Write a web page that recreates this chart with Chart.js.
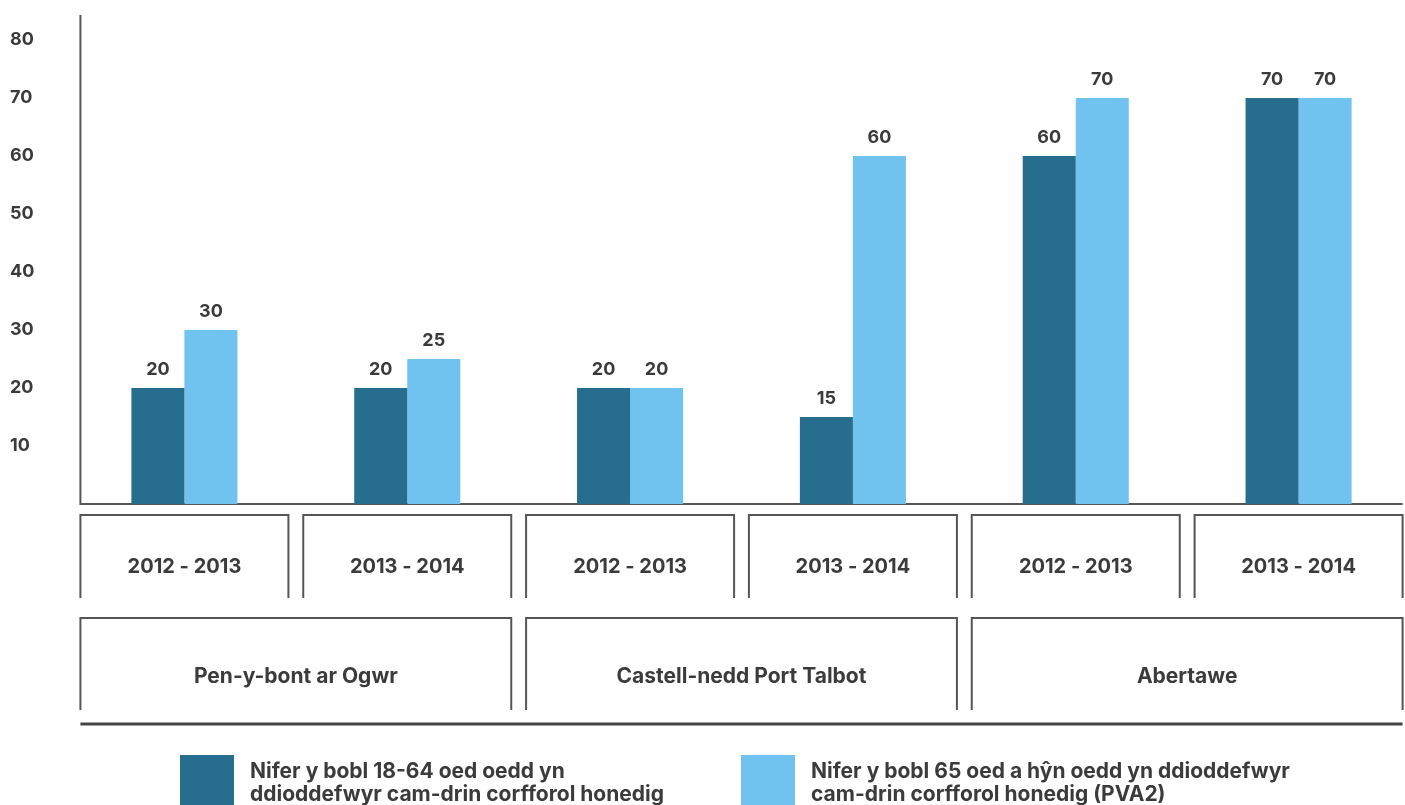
<!DOCTYPE html>
<html>
<head>
<meta charset="utf-8">
<script src="https://cdn.jsdelivr.net/npm/chart.js@4.4.1/dist/chart.umd.min.js"></script>
<style>
  html, body { margin: 0; padding: 0; background: #fff; overflow: hidden; }
  canvas { display: block; }
</style>
</head>
<body>
<canvas id="chart" width="1410" height="805"></canvas>
<script>
// data
const years = ['2012 - 2013', '2013 - 2014', '2012 - 2013', '2013 - 2014', '2012 - 2013', '2013 - 2014'];
const regions = ['Pen-y-bont ar Ogwr', 'Castell-nedd Port Talbot', 'Abertawe'];
const adults = [20, 20, 20, 15, 60, 70];
const older = [30, 25, 20, 60, 70, 70];
const adultsLabel = ['Nifer y bobl 18-64 oed oedd yn', 'ddioddefwyr cam-drin corfforol honedig'];
const olderLabel = ['Nifer y bobl 65 oed a hŷn oedd yn ddioddefwyr', 'cam-drin corfforol honedig (PVA2)'];
const yTicks = [10, 20, 30, 40, 50, 60, 70, 80];

const FONT = 'Inter, "Open Sans", sans-serif';
const TEXT = '#3b3b3b';
const LINE = '#555555';
const DARK = '#276e8e';
const LIGHT = '#70c3ee';

const boxHalf = 104;

// boxes, axis lines, bar values and legend
const decor = {
  id: 'decor',
  beforeDatasetsDraw(chart) {
    const ctx = chart.ctx;
    const xs = chart.scales.x;
    const area = chart.chartArea;
    const left = xs.getPixelForValue(0) - boxHalf;
    const right = xs.getPixelForValue(years.length - 1) + boxHalf;
    ctx.save();
    ctx.strokeStyle = LINE;
    ctx.lineWidth = 2;
    // y axis line + baseline
    ctx.beginPath();
    ctx.moveTo(left, area.top);
    ctx.lineTo(left, area.bottom);
    ctx.lineTo(right, area.bottom);
    ctx.stroke();

    // year boxes (open at the bottom)
    const yTop = area.bottom + 11, yBot = area.bottom + 94;
    years.forEach((y, i) => {
      const c = xs.getPixelForValue(i);
      ctx.beginPath();
      ctx.moveTo(c - boxHalf, yBot);
      ctx.lineTo(c - boxHalf, yTop);
      ctx.lineTo(c + boxHalf, yTop);
      ctx.lineTo(c + boxHalf, yBot);
      ctx.stroke();
    });

    // region boxes
    const rTop = area.bottom + 114, rBot = area.bottom + 206;
    ctx.fillStyle = TEXT;
    ctx.font = 'bold 21px ' + FONT;
    ctx.textAlign = 'center';
    ctx.textBaseline = 'middle';
    regions.forEach((r, k) => {
      const l = xs.getPixelForValue(2 * k) - boxHalf;
      const rr = xs.getPixelForValue(2 * k + 1) + boxHalf;
      ctx.beginPath();
      ctx.moveTo(l, rBot);
      ctx.lineTo(l, rTop);
      ctx.lineTo(rr, rTop);
      ctx.lineTo(rr, rBot);
      ctx.stroke();
      ctx.fillText(r, (l + rr) / 2, area.bottom + 173);
    });

    // bottom rule
    ctx.lineWidth = 3;
    ctx.strokeStyle = '#444';
    ctx.beginPath();
    ctx.moveTo(left, area.bottom + 220);
    ctx.lineTo(right, area.bottom + 220);
    ctx.stroke();
    ctx.restore();
  },
  afterDatasetsDraw(chart) {
    const ctx = chart.ctx;
    ctx.save();
    ctx.fillStyle = TEXT;
    ctx.font = 'bold 18px ' + FONT;
    ctx.textAlign = 'center';
    ctx.textBaseline = 'middle';
    chart.data.datasets.forEach((ds, di) => {
      chart.getDatasetMeta(di).data.forEach((bar, i) => {
        ctx.fillText(String(ds.data[i]), bar.x, bar.y - 18);
      });
    });

    // legend
    const items = [[180, 0], [741, 1]];
    ctx.textAlign = 'left';
    ctx.font = 'bold 21px ' + FONT;
    items.forEach(([x, di]) => {
      const ds = chart.data.datasets[di];
      ctx.fillStyle = ds.backgroundColor;
      ctx.fillRect(x, 755, 54, 60);
      ctx.fillStyle = TEXT;
      ds.label.forEach((line, j) => ctx.fillText(line, x + 70, 772 + j * 23));
    });
    ctx.restore();
  }
};

new Chart(document.getElementById('chart'), {
  type: 'bar',
  data: {
    labels: years,
    datasets: [
      { label: adultsLabel, data: adults, backgroundColor: DARK },
      { label: olderLabel, data: older, backgroundColor: LIGHT }
    ]
  },
  options: {
    responsive: false,
    animation: false,
    layout: { padding: { left: 10, top: 15, right: 0, bottom: 226 } },
    datasets: { bar: { categoryPercentage: 0.476, barPercentage: 1 } },
    plugins: { legend: { display: false }, tooltip: { enabled: false } },
    scales: {
      x: {
        border: { display: false },
        grid: { display: true, drawOnChartArea: false, drawTicks: true, tickLength: 51, color: 'rgba(0,0,0,0)' },
        ticks: { padding: 0, color: TEXT, font: { family: FONT, size: 20, weight: 'bold' }, maxRotation: 0, autoSkip: false }
      },
      y: {
        min: 0,
        max: 84.3,
        border: { display: false },
        grid: { display: false, drawTicks: false },
        afterBuildTicks: s => { s.ticks = yTicks.map(v => ({ value: v })); },
        afterFit: s => { s.width = 63; },
        ticks: { padding: 4, crossAlign: 'far', color: TEXT, font: { family: FONT, size: 18, weight: 'bold' } }
      }
    }
  },
  plugins: [decor]
});
</script>
</body>
</html>
